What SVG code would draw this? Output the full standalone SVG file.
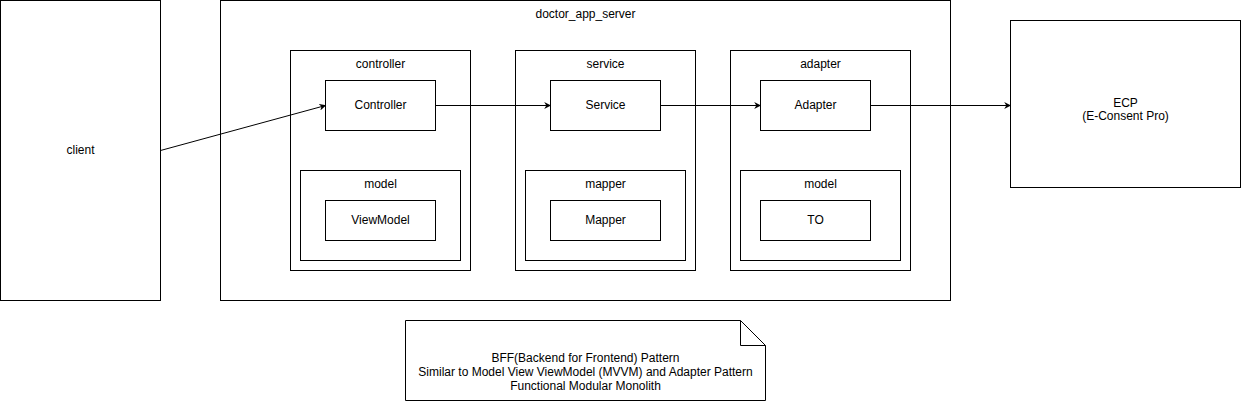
<svg xmlns="http://www.w3.org/2000/svg" width="1241" height="401" viewBox="0 0 1241 401">
<defs>
<style>
.b{fill:#fff;stroke:#000;stroke-width:1}
.t{font-family:"Liberation Sans",Arial,sans-serif;font-size:12px;fill:#000;text-anchor:middle}
.c{fill:none;stroke:#000;stroke-width:1}
</style>
<marker id="a" viewBox="0 0 10 10" refX="9" refY="5" markerWidth="7" markerHeight="7" orient="auto" markerUnits="userSpaceOnUse">
<path d="M0,0 L10,5 L0,10 L3,5 Z" fill="#000"/>
</marker>
</defs>
<rect width="1241" height="401" fill="#fff"/>
<g id="client"><rect class="b" x="0.5" y="0.5" width="160" height="300"/><text class="t" x="80.5" y="154">client</text></g>
<g id="server"><rect class="b" x="220.5" y="0.5" width="730" height="300"/><text class="t" x="585.5" y="18">doctor_app_server</text></g>
<g id="controller-pkg"><rect class="b" x="290.5" y="50.5" width="180" height="220"/><text class="t" x="380.5" y="68">controller</text></g>
<g id="controller"><rect class="b" x="325.5" y="80.5" width="110" height="50"/><text class="t" x="380.5" y="109">Controller</text></g>
<g id="model-pkg1"><rect class="b" x="300.5" y="170.5" width="160" height="90"/><text class="t" x="380.5" y="188">model</text></g>
<g id="viewmodel"><rect class="b" x="325.5" y="200.5" width="110" height="40"/><text class="t" x="380.5" y="224">ViewModel</text></g>
<g id="service-pkg"><rect class="b" x="515.5" y="50.5" width="180" height="220"/><text class="t" x="605.5" y="68">service</text></g>
<g id="service"><rect class="b" x="550.5" y="80.5" width="110" height="50"/><text class="t" x="605.5" y="109">Service</text></g>
<g id="mapper-pkg"><rect class="b" x="525.5" y="170.5" width="160" height="90"/><text class="t" x="605.5" y="188">mapper</text></g>
<g id="mapper"><rect class="b" x="550.5" y="200.5" width="110" height="40"/><text class="t" x="605.5" y="224">Mapper</text></g>
<g id="adapter-pkg"><rect class="b" x="730.5" y="50.5" width="180" height="220"/><text class="t" x="820.5" y="68">adapter</text></g>
<g id="adapter"><rect class="b" x="760.5" y="80.5" width="110" height="50"/><text class="t" x="815.5" y="109">Adapter</text></g>
<g id="model-pkg2"><rect class="b" x="740.5" y="170.5" width="160" height="90"/><text class="t" x="820.5" y="188">model</text></g>
<g id="to"><rect class="b" x="760.5" y="200.5" width="110" height="40"/><text class="t" x="815.5" y="224">TO</text></g>
<g id="ecp"><rect class="b" x="1010.5" y="20.5" width="230" height="167"/><text class="t" x="1125.5" y="107">ECP</text><text class="t" x="1125.5" y="120">(E-Consent Pro)</text></g>
<g id="note"><path class="b" d="M405.5,320.5 H740.5 L765.5,345.5 V400.5 H405.5 Z"/><path class="c" d="M740.5,320.5 V345.5 H765.5"/>
<text class="t" x="585.5" y="362">BFF(Backend for Frontend) Pattern</text>
<text class="t" x="585.5" y="376">Similar to Model View ViewModel (MVVM) and Adapter Pattern</text>
<text class="t" x="585.5" y="390">Functional Modular Monolith</text></g>
<g id="connectors">
<path class="c" d="M160.5,150.5 L325.5,105.5" marker-end="url(#a)"/>
<path class="c" d="M435.5,105.5 H550.5" marker-end="url(#a)"/>
<path class="c" d="M660.5,105.5 H760.5" marker-end="url(#a)"/>
<path class="c" d="M870.5,105.5 H1010.5" marker-end="url(#a)"/>
</g>
</svg>
